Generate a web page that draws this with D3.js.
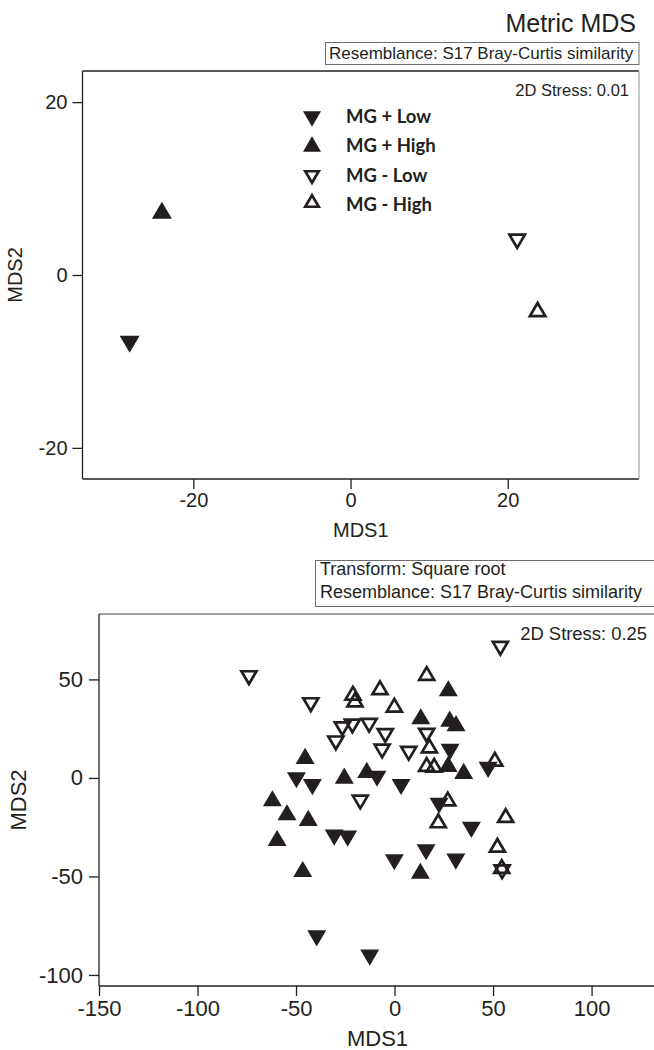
<!DOCTYPE html>
<html>
<head>
<meta charset="utf-8">
<script src="https://cdn.jsdelivr.net/npm/d3@7"></script>
<style>
    body { margin: 0; background: #fff; }
    svg text { font-family: "Liberation Sans", Arial, sans-serif; fill: #231f20; }
</style>
</head>
<body>
<div class="mds_component"></div>
<script>
//<data>--------------------------------------//
var groups = ["MG + Low", "MG + High", "MG - Low", "MG - High"];
// Metric MDS (one centroid per group)
var metricMds1 = [-28.1, -24.0, 21.2, 23.8];
var metricMds2 = [-8.0, 7.5, 3.9, -4.0];
var metricTicks = [-20, 0, 20];
// nMDS, square root transform
var lowPlus = [[-49.8, -1.2], [-41.7, -4.7], [-8.9, -0.4], [3.3, -4.6], [-30.6, -30.3], [-23.8, -30.8],
    [-0.1, -42.8], [16.0, -37.7], [22.6, -14.1], [39.0, -26.4], [31.1, -42.5], [-39.5, -81.4],
    [-12.6, -91.2], [28.2, 13.2], [47.5, 4.1]];
var highPlus = [[13.3, 31.3], [27.3, 45.5], [28.0, 30.1], [31.2, 27.8], [27.2, 7.1], [35.1, 3.6],
    [-45.4, 11.2], [-25.5, 1.2], [-14.1, 4.1], [-62.0, -10.3], [-54.6, -17.4], [-43.8, -20.3],
    [-59.6, -30.5], [-46.6, -46.2], [13.1, -47.1]];
var lowMinus = [[-73.9, 50.9], [53.7, 65.8], [-42.5, 37.2], [-26.5, 25.0], [-21.4, 26.4], [-12.9, 26.7],
    [-29.8, 17.8], [-4.7, 21.5], [-6.3, 13.7], [7.2, 12.5], [16.3, 21.7], [-17.4, -12.2], [54.6, -47.6]];
var highMinus = [[-21.1, 43.0], [-20.1, 39.6], [-7.4, 45.8], [-0.1, 36.9], [16.3, 53.0], [17.7, 16.2],
    [16.3, 6.8], [20.1, 6.4], [50.9, 9.5], [27.0, -10.7], [22.2, -21.8], [56.4, -19.1], [52.2, -34.2],
    [54.4, -45.0]];
var nmdsTicksX = [-150, -100, -50, 0, 50, 100];
var nmdsTicksY = [-100, -50, 0, 50];

var ink = "#231f20";

//<marker>------------------------------------//
// triangle centred on its bounding box, down = true gives the inverted one
function tri(down) {
    return {
        draw: function (context, size) {
            var w = Math.sqrt(size), h = w * 0.85;
            var s = down ? 1 : -1;
            context.moveTo(-w / 2, -s * h / 2);
            context.lineTo(w / 2, -s * h / 2);
            context.lineTo(0, s * h / 2);
            context.closePath();
        }
    };
}
// [down, filled] per group
var markStyle = [[true, true], [false, true], [true, false], [false, false]];
function markPath(i, w) {
    return d3.symbol().type(tri(markStyle[i][0])).size(w * w)();
}
function styleMark(sel, i) {
    if (markStyle[i][1]) sel.attr("fill", ink).attr("stroke", "none");
    else sel.attr("fill", "none").attr("stroke", ink).attr("stroke-width", 2.7).attr("stroke-linejoin", "miter");
}
// plain hyphen for negative ticks, like the original figure
function tickText(d) { return String(d); }
function styleAxis(g, size) {
    g.select(".domain").remove();
    g.selectAll("line").attr("stroke", ink).attr("stroke-width", 1.3);
    g.selectAll("text").style("font-size", size).attr("font-family", null).attr("fill", ink);
}

var svg = d3.select(".mds_component").append("svg")
    .attr("width", 654).attr("height", 1050);

//<top chart : Metric MDS>--------------------//
var xTop = d3.scaleLinear().domain([-34.1, 36.7]).range([82.5, 639]);
var yTop = d3.scaleLinear().domain([-23.6, 23.6]).range([479, 71]);

svg.append("text").text("Metric MDS")
    .attr("x", 636).attr("y", 32).style("text-anchor", "end").style("font-size", "25px");
svg.append("rect").attr("x", 325.5).attr("y", 42.5).attr("width", 313.5).attr("height", 22)
    .attr("fill", "none").attr("stroke", "#6d6e70").attr("stroke-width", 1);
svg.append("text").text("Resemblance: S17 Bray-Curtis similarity")
    .attr("x", 329).attr("y", 59).style("font-size", "17px");

var gTop = svg.append("g");
gTop.append("g").attr("transform", "translate(" + xTop.range()[0] + ",0)")
    .call(d3.axisLeft(yTop).tickValues(metricTicks).tickSize(10).tickPadding(5).tickFormat(tickText))
    .call(styleAxis, "20px");
gTop.append("g").attr("transform", "translate(0," + yTop.range()[0] + ")")
    .call(d3.axisBottom(xTop).tickValues(metricTicks).tickSize(10).tickPadding(4).tickFormat(tickText))
    .call(styleAxis, "20px");
// frame
gTop.append("line").attr("x1", 82.5).attr("x2", 639).attr("y1", 71).attr("y2", 71).attr("stroke", ink).attr("stroke-width", 1.3);
gTop.append("line").attr("x1", 82.5).attr("x2", 639).attr("y1", 479).attr("y2", 479).attr("stroke", ink).attr("stroke-width", 1.3);
gTop.append("line").attr("x1", 82.5).attr("x2", 82.5).attr("y1", 71).attr("y2", 479).attr("stroke", ink).attr("stroke-width", 1.3);
gTop.append("line").attr("x1", 639).attr("x2", 639).attr("y1", 71).attr("y2", 479).attr("stroke", "#a7a9ac").attr("stroke-width", 1.3);

gTop.append("text").text("2D Stress: 0.01")
    .attr("x", 629).attr("y", 96).style("text-anchor", "end").style("font-size", "16.5px");
gTop.append("text").text("MDS1")
    .attr("x", 360.8).attr("y", 537).style("text-anchor", "middle").style("font-size", "20px");
gTop.append("text").text("MDS2")
    .attr("transform", "translate(22,275) rotate(-90)").style("text-anchor", "middle").style("font-size", "20px");

gTop.selectAll("path.pt")
    .data(groups)
    .enter()
    .append("path").attr("class", "pt")
    .attr("d", function (d, i) { return markPath(i, markStyle[i][1] ? 20 : 15.5); })
    .attr("transform", function (d, i) { return "translate(" + xTop(metricMds1[i]) + "," + yTop(metricMds2[i]) + ")"; })
    .each(function (d, i) { styleMark(d3.select(this), i); });

//<legend>------------------------------------//
var legY = [119, 144, 177, 201];
var legTextY = [123, 152, 182, 211];
var legend = gTop.append("g");
groups.forEach(function (name, i) {
    legend.append("path")
        .attr("d", markPath(i, markStyle[i][1] ? 18 : 13.5))
        .attr("transform", "translate(312," + legY[i] + ")")
        .call(function (p) { styleMark(p, i); });
    legend.append("text").text(name)
        .attr("x", 346).attr("y", legTextY[i])
        .style("font-family", "Lato, 'Open Sans', sans-serif")
        .style("font-weight", "bold")
        .style("font-size", "18.5px");
});

//<bottom chart : nMDS>-----------------------//
var xBot = d3.scaleLinear().domain([-150, 132.7]).range([99, 656]);
var yBot = d3.scaleLinear().domain([-105.6, 83.2]).range([986, 614]);

svg.append("rect").attr("x", 315.5).attr("y", 560.5).attr("width", 350).attr("height", 46)
    .attr("fill", "none").attr("stroke", "#6d6e70").attr("stroke-width", 1);
svg.append("text").text("Transform: Square root")
    .attr("x", 320).attr("y", 575).style("font-size", "18px");
svg.append("text").text("Resemblance: S17 Bray-Curtis similarity")
    .attr("x", 320).attr("y", 598).style("font-size", "18px");

var gBot = svg.append("g");
gBot.append("g").attr("transform", "translate(" + xBot.range()[0] + ",0)")
    .call(d3.axisLeft(yBot).tickValues(nmdsTicksY).tickSize(10).tickPadding(6).tickFormat(tickText))
    .call(styleAxis, "22px");
gBot.append("g").attr("transform", "translate(0," + yBot.range()[0] + ")")
    .call(d3.axisBottom(xBot).tickValues(nmdsTicksX).tickSize(10).tickPadding(4).tickFormat(tickText))
    .call(styleAxis, "22px");
gBot.append("line").attr("x1", 99).attr("x2", 656).attr("y1", 614).attr("y2", 614).attr("stroke", "#808285").attr("stroke-width", 1.3);
gBot.append("line").attr("x1", 99).attr("x2", 656).attr("y1", 986).attr("y2", 986).attr("stroke", ink).attr("stroke-width", 1.3);
gBot.append("line").attr("x1", 99).attr("x2", 99).attr("y1", 614).attr("y2", 986).attr("stroke", ink).attr("stroke-width", 1.3);

gBot.append("text").text("2D Stress: 0.25")
    .attr("x", 647).attr("y", 640).style("text-anchor", "end").style("font-size", "18.4px");
gBot.append("text").text("MDS1")
    .attr("x", 377.5).attr("y", 1046).style("text-anchor", "middle").style("font-size", "22px");
gBot.append("text").text("MDS2")
    .attr("transform", "translate(26,800) rotate(-90)").style("text-anchor", "middle").style("font-size", "22px");

//DrawPoints-----------------------------------//
var nmdsSets = [lowPlus, highPlus, lowMinus, highMinus];
var drawOrder = [3, 2, 1, 0];
drawOrder.forEach(function (i) {
    gBot.append("g").selectAll("path")
        .data(nmdsSets[i])
        .enter()
        .append("path")
        .attr("d", markPath(i, markStyle[i][1] ? 19 : 15))
        .attr("transform", function (d) { return "translate(" + xBot(d[0]) + "," + yBot(d[1]) + ")"; })
        .call(function (p) { styleMark(p, i); });
});
</script>
</body>
</html>
